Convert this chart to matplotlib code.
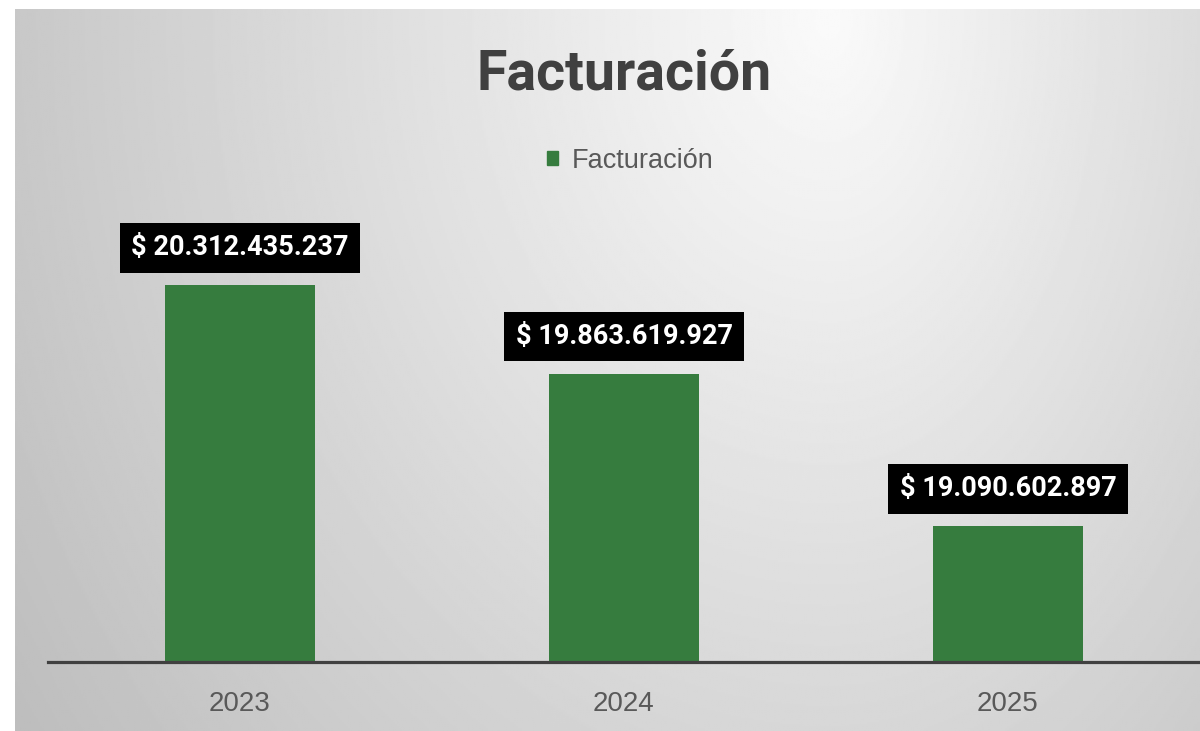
import numpy as np
import matplotlib.pyplot as plt
from matplotlib.patches import Patch

# Datos
years = ['2023', '2024', '2025']
facturacion = [20312435237, 19863619927, 19090602897]
bar_color = '#367c3e'

W, H = 1200, 731
fig = plt.figure(figsize=(W / 100, H / 100), dpi=100, facecolor='white')

# Fondo con degradado (gris en los bordes, blanco arriba a la derecha del centro)
bg = fig.add_axes([15 / W, 0, 1 - 15 / W, 1 - 9 / H])
xx, yy = np.meshgrid(np.linspace(15, W, 600), np.linspace(9, H, 360))
cx, cy = 830, 20
nx = np.where(xx < cx, (xx - cx) / (cx - 15), (xx - cx) / (W - cx) * 0.6)
ny = (yy - cy) / (H - cy) * 0.7
d = np.clip(np.sqrt(nx ** 2 + ny ** 2), 0, 1.2)
val = (250 - 50 * d) / 255
bg.imshow(val, cmap='gray', vmin=0, vmax=1, extent=[0, 1, 0, 1], aspect='auto', origin='upper')
bg.axis('off')

# Eje principal
ax = fig.add_axes([48 / W, 1 - 662 / H, 1 - 48 / W, (662 - 9) / H])
ax.set_facecolor('none')
x = np.arange(len(years))
ax.bar(x, facturacion, width=0.39, color=bar_color, zorder=2)
ax.set_xlim(-0.5, 2.5)
ax.set_ylim(18.4e9, 18.4e9 + (662 - 9) / 197.1 * 1e9)

for s in ['top', 'left', 'right']:
    ax.spines[s].set_visible(False)
ax.spines['bottom'].set_color('#404040')
ax.spines['bottom'].set_linewidth(2.3)
ax.spines['bottom'].set_zorder(3)
ax.set_yticks([])
ax.set_xticks(x)
ax.set_xticklabels(years, fontsize=20, color='#595959', family=['Liberation Sans', 'DejaVu Sans'])
ax.tick_params(axis='x', length=0, pad=21)

# Etiquetas de datos
for xi, v in zip(x, facturacion):
    txt = '$ ' + f'{v:,}'.replace(',', '.')
    ax.annotate(txt, (xi, v), xytext=(0, 17), textcoords='offset points',
                ha='center', va='bottom', fontsize=19.5, fontweight='bold', color='white',
                family=['Roboto', 'DejaVu Sans'],
                bbox=dict(boxstyle='square,pad=0.42', fc='black', ec='none'), zorder=4)

# Título
fig.text(624 / W, 1 - 90 / H, 'Facturación', ha='center', va='baseline',
         fontsize=40, fontweight='bold', color='#404040',
         family=['Roboto', 'DejaVu Sans'])

# Leyenda
ax.legend(handles=[Patch(color=bar_color, label='Facturación')], loc='center',
          bbox_to_anchor=(630 / W, 1 - 161 / H), bbox_transform=fig.transFigure,
          frameon=False, handlelength=0.4, handleheight=0.4, handletextpad=0.5,
          prop={'family': ['Liberation Sans', 'DejaVu Sans'], 'size': 19.5},
          labelcolor='#595959')

fig.savefig('out.png', dpi=100)
